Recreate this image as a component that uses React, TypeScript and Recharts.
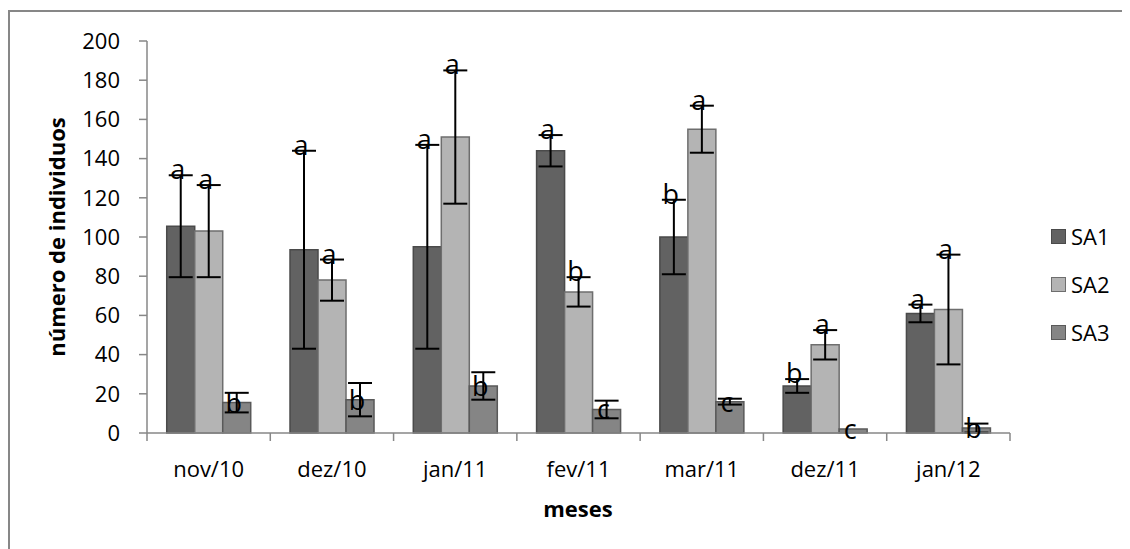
import {Bar, BarChart, ErrorBar, LabelList, XAxis, YAxis} from 'recharts'

const categories = ['nov/10', 'dez/10', 'jan/11', 'fev/11', 'mar/11', 'dez/11', 'jan/12']
const seriesNames = ['SA1', 'SA2', 'SA3']

const sa1 = [105.5, 93.5, 95, 144, 100, 24, 61]
const sa2 = [103, 78, 151, 72, 155, 45, 63]
const sa3 = [15.5, 17, 24, 12, 16, 2, 2.5]

const err1 = [26, 50.5, 52, 8, 19, 3.5, 4.5]
const err2 = [23.5, 10.5, 34, 7.5, 12, 7.5, 28]
const err3 = [5, 8.5, 7, 4.5, 1.5, 0, 2.3]

const let1 = ['a', 'a', 'a', 'a', 'b', 'b', 'a']
const let2 = ['a', 'a', 'a', 'b', 'a', 'a', 'a']
const let3 = ['b', 'b', 'b', 'c', 'c', 'c', 'b']

const yTicks = [0, 20, 40, 60, 80, 100, 120, 140, 160, 180, 200]

const values = [sa1, sa2, sa3]
const errors = [err1, err2, err3]
const letters = [let1, let2, let3]
const fills = ['#626262', '#b4b4b4', '#858585']
const strokes = ['#4a4a4a', '#6e6e6e', '#595959']

const data = categories.map((c, i) => ({
	cat: c,
	v0: sa1[i],
	v1: sa2[i],
	v2: sa3[i],
	e0: err1[i],
	e1: err2[i],
	e2: err3[i],
	l0: let1[i],
	l1: let2[i],
	l2: let3[i],
}))

const FONT = '"Open Sans", sans-serif'
const GRAY = '#878787'

const W = 1122
const H = 541
const MARGIN = {top: 33, right: 120, bottom: 56, left: 0}
const Y_W = 139
// width of one category band, used to put tick marks between the groups (Excel style)
const BAND = (W - MARGIN.left - MARGIN.right - Y_W) / categories.length

function CatTick(props: any) {
	const {x, y, payload, index} = props
	const last = index === categories.length - 1
	return (
		<g>
			<line x1={x - BAND / 2} x2={x - BAND / 2} y1={y} y2={y + 8} stroke={GRAY} strokeWidth={1.5} />
			{last && <line x1={x + BAND / 2} x2={x + BAND / 2} y1={y} y2={y + 8} stroke={GRAY} strokeWidth={1.5} />}
			<text x={x} y={y + 44} textAnchor='middle' fontFamily={FONT} fontSize={22} fill='#000'>
				{payload.value}
			</text>
		</g>
	)
}

function makeLetter(s: number) {
	return (p: any) => {
		const {x, y, width, height, index} = p
		const val = values[s][index]
		const pxPerUnit = val ? height / val : 0
		const errTop = y - errors[s][index] * pxPerUnit
		const baseY = s === 2 ? y + 10 : errTop + 4
		return (
			<text x={x + width / 2 - 3} y={baseY} textAnchor='middle' fontFamily={FONT} fontSize={27} fill='#000'>
				{letters[s][index]}
			</text>
		)
	}
}

export default function App() {
	return (
		<div style={{position: 'relative', width: W, height: H, overflow: 'hidden', fontFamily: FONT}}>
			<div
				style={{
					position: 'absolute',
					left: 0,
					top: 2,
					width: 1300,
					height: 700,
					borderTop: `2px solid ${GRAY}`,
					borderLeft: `2px solid ${GRAY}`,
				}}
			/>
			<div style={{position: 'absolute', left: 0, top: 0}}>
				<BarChart width={W} height={H} data={data} margin={MARGIN} barCategoryGap='16%' barGap={0}>
					<XAxis
						dataKey='cat'
						interval={0}
						height={60}
						tickSize={0}
						tickMargin={0}
						tickLine={false}
						tick={<CatTick />}
						axisLine={{stroke: GRAY, strokeWidth: 1.5}}
					/>
					<YAxis
						domain={[0, 200]}
						ticks={yTicks}
						interval={0}
						width={Y_W}
						tickSize={8}
						tickMargin={19}
						tickLine={{stroke: GRAY, strokeWidth: 1.5}}
						axisLine={{stroke: GRAY, strokeWidth: 1.5}}
						tick={{fill: '#000', fontSize: 22, fontFamily: FONT}}
					/>
					{seriesNames.map((name, s) => (
						<Bar
							key={name}
							dataKey={`v${s}`}
							name={name}
							fill={fills[s]}
							stroke={strokes[s]}
							strokeWidth={1.5}
							isAnimationActive={false}
						>
							<ErrorBar dataKey={`e${s}`} width={12} stroke='#000' strokeWidth={2} isAnimationActive={false} />
							<LabelList dataKey={`l${s}`} content={makeLetter(s)} />
						</Bar>
					))}
				</BarChart>
			</div>
			<div
				style={{
					position: 'absolute',
					left: 48,
					top: 229,
					transform: 'translate(-50%, -50%) rotate(-90deg)',
					whiteSpace: 'nowrap',
					fontWeight: 700,
					fontSize: 22,
				}}
			>
				número de individuos
			</div>
			<div
				style={{
					position: 'absolute',
					left: 570,
					top: 500,
					transform: 'translate(-50%, -50%)',
					whiteSpace: 'nowrap',
					fontWeight: 700,
					fontSize: 22,
				}}
			>
				meses
			</div>
			<div style={{position: 'absolute', left: 1043, top: 213}}>
				{seriesNames.map((name, s) => (
					<div key={name} style={{display: 'flex', alignItems: 'center', height: 30, marginBottom: 18}}>
						<div
							style={{
								width: 13,
								height: 13,
								background: fills[s],
								border: `1px solid ${strokes[s]}`,
								marginRight: 5,
							}}
						/>
						<span style={{fontSize: 22}}>{name}</span>
					</div>
				))}
			</div>
		</div>
	)
}
